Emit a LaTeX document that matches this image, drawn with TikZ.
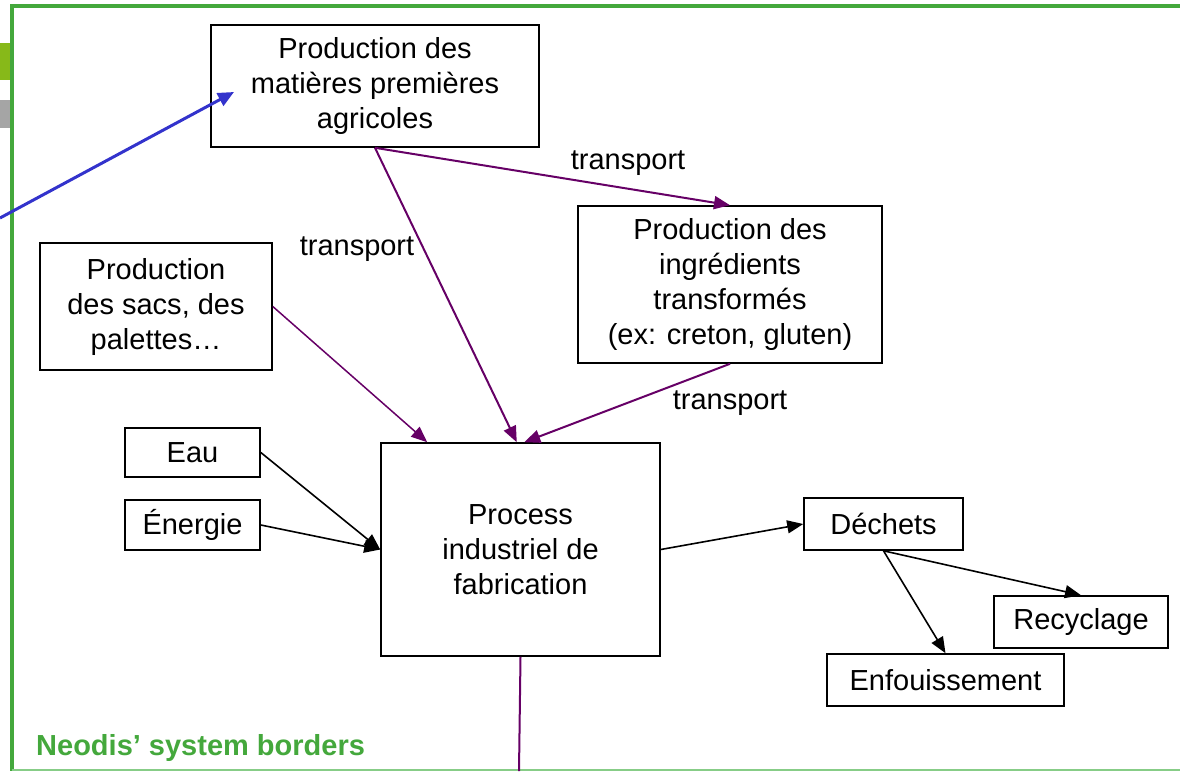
\documentclass[tikz,border=0pt]{standalone}
\usepackage{fontspec}
\setmainfont{Liberation Sans}
\usetikzlibrary{arrows.meta}

\definecolor{neogreen}{RGB}{68,168,60}
\definecolor{palegreen}{RGB}{135,205,135}
\definecolor{bargreen}{RGB}{135,185,25}
\definecolor{bargray}{RGB}{165,165,165}
\definecolor{flowpurple}{RGB}{102,0,102}
\definecolor{pointerblue}{RGB}{51,51,204}

\begin{document}
\begin{tikzpicture}
	[x=1pt, y=-1pt,
		font=\fontsize{29pt}{35pt}\selectfont,
		block/.style		={rectangle
									, draw=black
									, line width=1.6pt
									, align=center
									, inner sep=0pt
									},
		lbl/.style			={inner sep=0pt
									},
		line/.style		 	={draw
									, line width=1.6pt
									, -{Triangle[length=16pt,width=13pt]}
									},
		flow/.style		 	={line
									, draw=flowpurple
									, line width=2pt
									},
		pointer/.style	 	={draw=pointerblue
									, line width=3pt
									, -{Triangle[length=16pt,width=14pt]}
									}
	]
\useasboundingbox (0,0) rectangle (1180,771);

% system border
\fill [bargreen] (0,43) rectangle (10,80);
\fill [bargray]  (0,100) rectangle (10,128);
\draw [neogreen, line width=4pt] (1180,6) -- (11.5,6) -- (11.5,771);
\draw [palegreen, line width=2pt] (11.5,769.5) -- (1180,769.5);
\node [lbl, anchor=base west, text=neogreen, font=\fontsize{29pt}{35pt}\selectfont\bfseries]
	(borders) at (36,755) {Neodis’ system borders};

% boxes
\node [block, minimum width=328pt, minimum height=122pt] (agricole)
	at (375,86) {Production des\\matières premières\\agricoles};
\node [block, minimum width=304pt, minimum height=157pt] (ingredients)
	at (730,284.5) {Production des\\ingrédients\\transformés\\(ex: creton, gluten)};
\node [block, minimum width=232pt, minimum height=127pt] (sacs)
	at (156,306.5) {Production\\des sacs, des\\palettes…};
\node [block, minimum width=135pt, minimum height=49pt] (eau)
	at (192.5,452.5) {Eau};
\node [block, minimum width=135pt, minimum height=50pt] (energie)
	at (192.5,525) {Énergie};
\node [block, minimum width=279pt, minimum height=213pt] (process)
	at (520.5,549.5) {Process\\industriel de\\fabrication};
\node [block, minimum width=159pt, minimum height=52pt] (dechets)
	at (883.5,524) {Déchets};
\node [block, minimum width=174pt, minimum height=52pt] (recyclage)
	at (1081,622) {Recyclage};
\node [block, minimum width=237pt, minimum height=52pt] (enfouissement)
	at (945.5,680) {Enfouissement};

% transport labels
\node [lbl] (transport top)		at (628,163) {transport};
\node [lbl] (transport left)	at (357,249) {transport};
\node [lbl] (transport right)	at (730,403) {transport};

\coordinate (outside) at (0,218);
\coordinate (inside) at (234,92);
\coordinate (exit) at (519,771);

\begin{scope}[every path/.style=flow]
	\path					(agricole.south)		-- (ingredients.north);
	\path					(agricole.south)		-- (process.92);
	\path	[line width=1.5pt]	(sacs.east)	-- (process.131.3);
	\path					(ingredients.south)	-- (process.88);
	\path	[-]				(process.south)		-- (exit);
\end{scope}
\begin{scope}[every path/.style=line]
	\path					(eau.east)				-- (process.west);
	\path					(energie.east)			-- (process.west);
	\path					(process.east)			-- (dechets.west);
	\path					(dechets.south)		-- (recyclage.north);
	\path					(dechets.south)		-- (enfouissement.north);
\end{scope}
\draw [pointer] (outside) -- (inside);
\end{tikzpicture}
\end{document}
